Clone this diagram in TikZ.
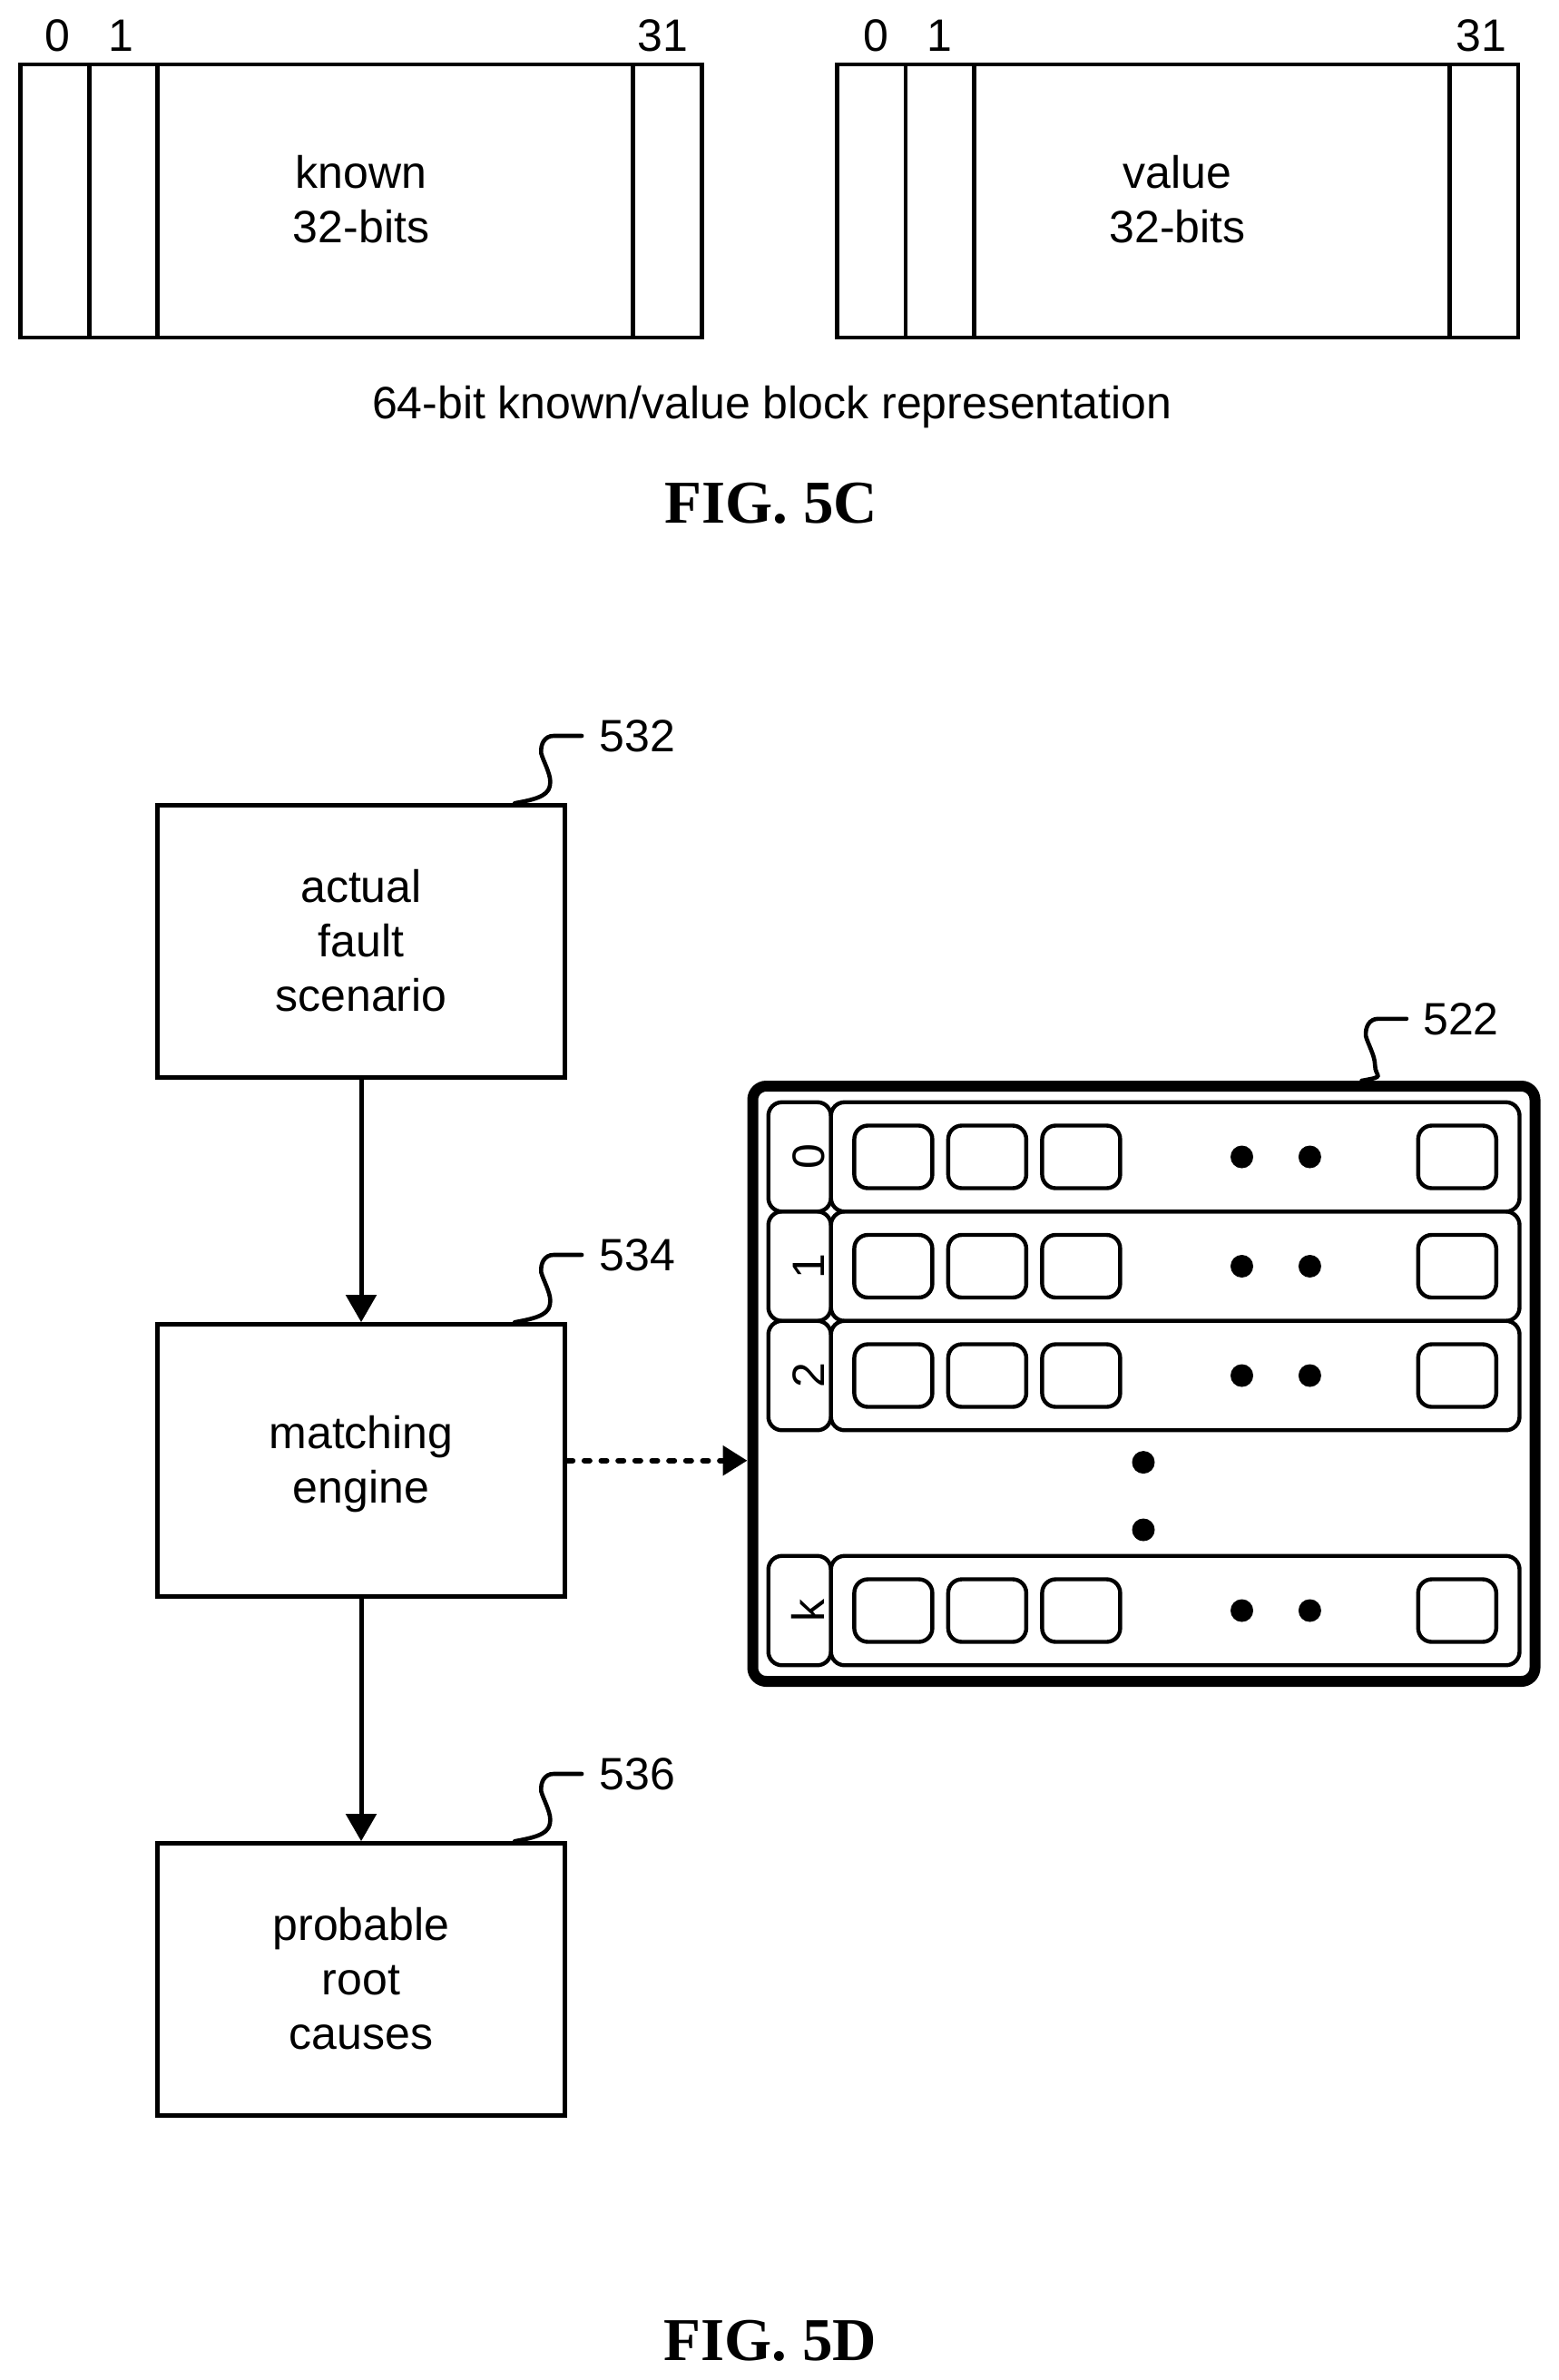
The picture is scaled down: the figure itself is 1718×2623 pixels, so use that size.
\documentclass[tikz,border=0pt]{standalone}
\usepackage{fontspec}
\setmainfont{Liberation Sans}
\newfontfamily\figfont{Liberation Serif}
\usetikzlibrary{calc,arrows.meta}

\begin{document}
\begin{tikzpicture}[-,x=0.5pt,y=-0.5pt,node distance=51.75pt,
    every node/.style={font=\fontsize{25}{30}\selectfont,inner sep=0pt},
    fig label/.style={font=\figfont\bfseries\fontsize{33.5}{36}\selectfont,anchor=base},
    text label/.style={anchor=base},
    bit cell/.style={draw,line width=2.3pt,minimum width=37.75pt,minimum height=150.5pt},
    word box/.style={draw,line width=2.3pt,align=center,text depth=1.7pt,minimum width=375.25pt,minimum height=150.5pt},
    main box/.style={draw,line width=2.5pt,align=center,text depth=1.7pt,minimum width=224.7pt,minimum height=150pt},
    table box/.style={draw,line width=6pt,rounded corners=7.5pt,minimum width=431pt,minimum height=328pt},
    key cell/.style={draw,line width=2.2pt,rounded corners=7.5pt,rotate=90,minimum width=60.25pt,minimum height=34.5pt,text height=27.1pt,text depth=0pt},
    row box/.style={draw,line width=2.2pt,rounded corners=7.5pt,minimum width=379.4pt,minimum height=60.25pt},
    slot/.style={draw,line width=2.2pt,rounded corners=7.5pt,minimum width=43pt,minimum height=34.5pt},
    dot/.style={circle,fill=black,minimum size=12.5pt},
    flow/.style={line width=2.5pt,-{Triangle[length=15pt,width=16.5pt]}},
    leader/.style={line width=2.3pt,line cap=round,to path={-- ++(-31,0)
      .. controls +(-10,0) and +(-1,-10) .. ++(-13.7,19.2)
      .. controls +(2,8) and +(0,-10) .. ++(10,31.6)
      .. controls +(0,14) and +(28,-5) .. (\tikztotarget)}}]

  % FIG. 5C
  \useasboundingbox (0,0) rectangle (1718,2623);
  \node[word box] (known) at (398,221.5) {known\\32-bits};
  \node[bit cell] (k0) at (60.5,221.5) {};
  \node[bit cell] (k1) [right of=k0,node distance=37.75pt] {};
  \node[bit cell] (k31) at (735.5,221.5) {};
  \node[text label] (k0t) at (63,56.6) {0};
  \node[text label] (k1t) at (133,56.6) {1};
  \node[text label] (k31t) at (730,56.6) {31};

  \node[word box] (value) at (1297.6,221.5) {value\\32-bits};
  \node[bit cell] (v0) at (960.1,221.5) {};
  \node[bit cell] (v1) [right of=v0,node distance=37.75pt] {};
  \node[bit cell] (v31) at (1635.1,221.5) {};
  \node[text label] (v0t) at (965.6,56.6) {0};
  \node[text label] (v1t) at (1035.6,56.6) {1};
  \node[text label] (v31t) at (1632,56.6) {31};

  \node[text label] (caption) at (850.6,461) {64-bit known/value block representation};
  \node[fig label] (fig5c) at (850,576) {FIG. 5C};

  % FIG. 5D
  \node[main box] (b532) at (398,1037.7) {actual\\fault\\scenario};
  \node[main box] (b534) [below of=b532,node distance=286pt] {matching\\engine};
  \node[main box] (b536) [below of=b534,node distance=286pt] {probable\\root\\causes};
  \node[text label] (l532) at ($(b532.north east)+(77,-57)$) {532};
  \node[text label] (l534) at ($(b534.north east)+(77,-57)$) {534};
  \node[text label] (l536) at ($(b536.north east)+(77,-57)$) {536};

  \node[table box] (table) at (1260.5,1525) {};
  \node[text label] (l522) at (1610,1140) {522};

  \node[key cell] (key0) at (881.2,1275) {0};
  \node[row box] (row0) at (1295.1,1275) {};
  \node[slot] (s0a) at (984.4,1275) {};
  \node[slot] (s0b) [right of=s0a] {};
  \node[slot] (s0c) [right of=s0b] {};
  \node[dot] (d0a) at (1368.5,1275) {};
  \node[dot] (d0b) at (1443.4,1275) {};
  \node[slot] (s0d) at (1605.8,1275) {};

  \node[key cell] (key1) at (881.2,1395.5) {1};
  \node[row box] (row1) at (1295.1,1395.5) {};
  \node[slot] (s1a) at (984.4,1395.5) {};
  \node[slot] (s1b) [right of=s1a] {};
  \node[slot] (s1c) [right of=s1b] {};
  \node[dot] (d1a) at (1368.5,1395.5) {};
  \node[dot] (d1b) at (1443.4,1395.5) {};
  \node[slot] (s1d) at (1605.8,1395.5) {};

  \node[key cell] (key2) at (881.2,1516) {2};
  \node[row box] (row2) at (1295.1,1516) {};
  \node[slot] (s2a) at (984.4,1516) {};
  \node[slot] (s2b) [right of=s2a] {};
  \node[slot] (s2c) [right of=s2b] {};
  \node[dot] (d2a) at (1368.5,1516) {};
  \node[dot] (d2b) at (1443.4,1516) {};
  \node[slot] (s2d) at (1605.8,1516) {};

  \node[dot] (gap1) at (1260,1611.6) {};
  \node[dot] (gap2) at (1260,1686) {};

  \node[key cell] (keyk) at (881.2,1775) {k};
  \node[row box] (rowk) at (1295.1,1775) {};
  \node[slot] (ska) at (984.4,1775) {};
  \node[slot] (skb) [right of=ska] {};
  \node[slot] (skc) [right of=skb] {};
  \node[dot] (dka) at (1368.5,1775) {};
  \node[dot] (dkb) at (1443.4,1775) {};
  \node[slot] (skd) at (1605.8,1775) {};

  \node[fig label] (fig5d) at (849,2601.7) {FIG. 5D};

  \draw[flow] (b532) -- (b534);
  \draw[flow] (b534) -- (b536);
  \draw[flow,line width=3pt,line cap=round,dash pattern=on 3pt off 6.33pt,-{Triangle[length=13.5pt,width=16pt]}] (b534.east) -- (b534.east -| table.west);

  \draw[leader] ($(l532.west)+(-19,0)$) to ($(b532.north east)+(-58,0)$);
  \draw[leader] ($(l534.west)+(-19,0)$) to ($(b534.north east)+(-58,0)$);
  \draw[leader] ($(l536.west)+(-19,0)$) to ($(b536.north east)+(-58,0)$);
  \draw[leader] ($(l522.west)+(-18,0)$) to ($(table.north east)+(-197,0)$);
\end{tikzpicture}
\end{document}
